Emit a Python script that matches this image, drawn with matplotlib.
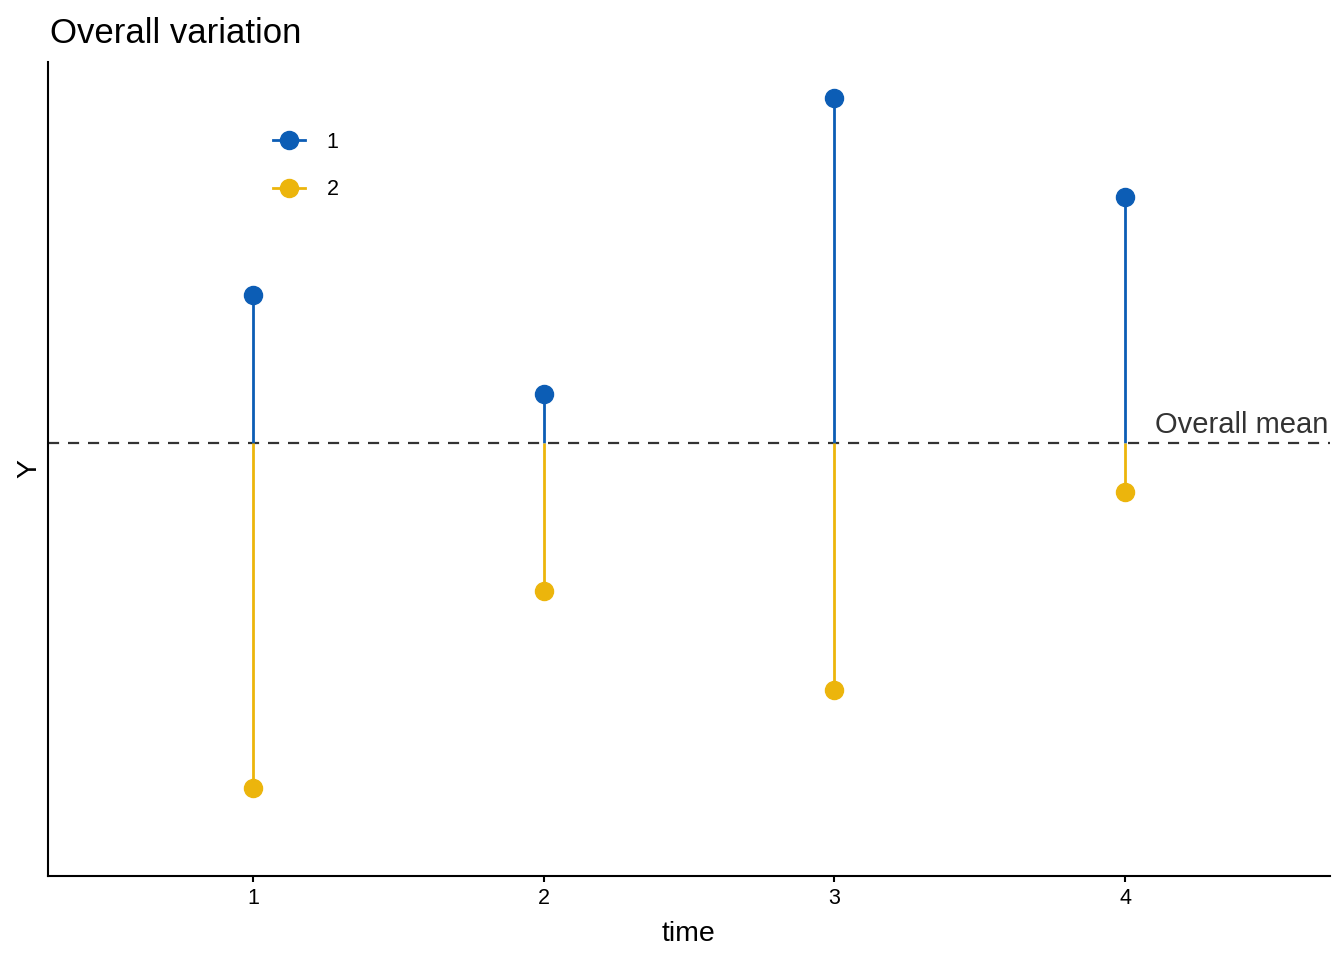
import matplotlib
matplotlib.use("Agg")
import matplotlib.pyplot as plt
import numpy as np

plt.rcParams['font.family'] = ['Liberation Sans', 'DejaVu Sans']

# data (deviation from overall mean)
time = [1, 2, 3, 4]
group1 = [3, 1, 7, 5]
group2 = [-7, -3, -5, -1]
overall_mean = 0
groups = ["1", "2"]
colors = ["#0C5DB5", "#ECB50C"]

fig = plt.figure(figsize=(13.44, 9.6), dpi=100)
ax = fig.add_axes([48 / 1344, 1 - 876 / 960, (1330 - 48) / 1344, (876 - 62) / 960])

for vals, col, lab in zip([group1, group2], colors, groups):
    ax.vlines(time, overall_mean, vals, color=col, lw=2, zorder=2)
    ax.plot(time, vals, 'o', color=col, ms=13, zorder=3)
    # legend handle only
    ax.plot([], [], '-o', color=col, ms=13, lw=2, label=lab)

ax.axhline(overall_mean, color="#333333", ls=(0, (5, 4)), lw=1.6, zorder=1)
ax.text(4.7, overall_mean + 0.08, "Overall mean", ha='right', va='bottom',
        fontsize=21, color="#333333")

ax.set_xlim(0.295, 4.705)
ax.set_ylim(-8.78, 7.73)
ax.set_xticks(time)
ax.set_xticklabels([str(t) for t in time], fontsize=15.5)
ax.set_yticks([])
ax.tick_params(axis='x', length=4, width=1.5, color='black', pad=5)
for side in ['top', 'right']:
    ax.spines[side].set_visible(False)
for side in ['left', 'bottom']:
    ax.spines[side].set_linewidth(1.5)
    ax.spines[side].set_color('black')

ax.set_xlabel("time", fontsize=20.5, labelpad=8)
ax.set_ylabel("Y", fontsize=20.5, labelpad=4)
ax.set_title("Overall variation", fontsize=25, loc='left', pad=14, x=0.0016)

leg = ax.legend(loc='upper left', bbox_to_anchor=(273 / 1344, 1 - 132 / 960),
                bbox_transform=fig.transFigure, frameon=False, fontsize=15.5,
                handlelength=1.5, handletextpad=1.0, labelspacing=1.22,
                borderpad=0, borderaxespad=0)

fig.savefig("out.png", dpi=100)
